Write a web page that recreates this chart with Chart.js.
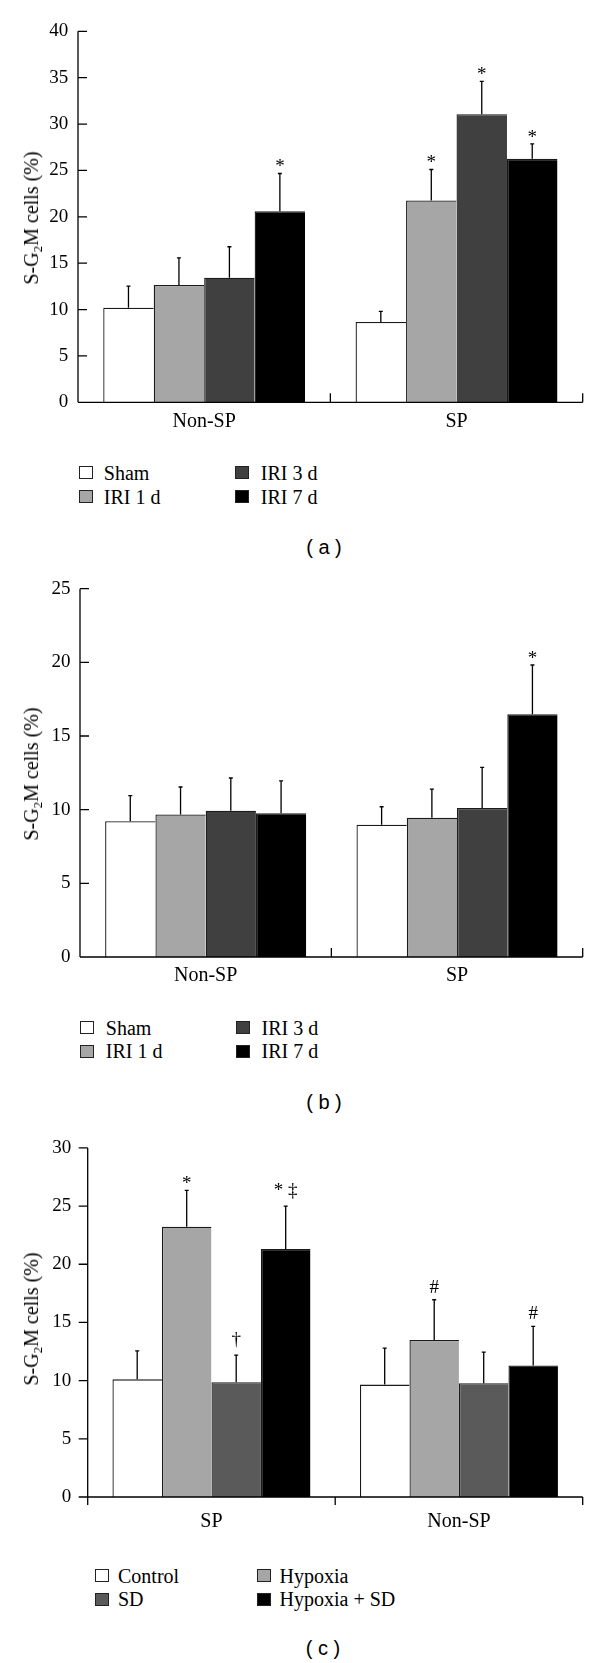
<!DOCTYPE html>
<html><head><meta charset="utf-8">
<script src="https://cdn.jsdelivr.net/npm/chart.js@4.4.1/dist/chart.umd.min.js"></script>
<style>
body{margin:0;background:#fff;}
#wrap{position:relative;width:600px;height:1663px;overflow:hidden;background:#fff;}
#wrap canvas{position:absolute;left:0;}
.yt{position:absolute;font:20px "Liberation Serif","Times New Roman",serif;white-space:nowrap;transform:translate(-50%,-50%) rotate(-90deg);color:#000;line-height:1;}
.yt sub{font-size:13px;vertical-align:-4px;line-height:0;}
.lg-box{position:absolute;box-sizing:border-box;border:1px solid #222;}
.lg-txt{position:absolute;font:20px "Liberation Serif","Times New Roman",serif;white-space:nowrap;transform:translateY(-50%);line-height:1;color:#000;}
.cap{position:absolute;font:20px "Liberation Sans",Arial,sans-serif;transform:translate(-50%,-50%);white-space:pre;color:#000;line-height:1;}
</style></head>
<body><div id="wrap"></div>
<script>
// ---------- DATA ----------
// Panel (a)
const A_categories = ['Non-SP', 'SP'];
const A_series = ['Sham', 'IRI 1 d', 'IRI 3 d', 'IRI 7 d'];
const A_sham = [10.2, 8.65];
const A_iri1 = [12.64, 21.76];
const A_iri3 = [13.43, 31.06];
const A_iri7 = [20.61, 26.25];
const A_sham_err = [2.33, 1.15];
const A_iri1_err = [2.94, 3.34];
const A_iri3_err = [3.34, 3.54];
const A_iri7_err = [4.06, 1.61];
const A_sham_sig = ['', ''];
const A_iri1_sig = ['', '*'];
const A_iri3_sig = ['', '*'];
const A_iri7_sig = ['*', '*'];
const A_yMax = 40, A_yStep = 5;

// Panel (b)
const B_categories = ['Non-SP', 'SP'];
const B_series = ['Sham', 'IRI 1 d', 'IRI 3 d', 'IRI 7 d'];
const B_sham = [9.21, 8.98];
const B_iri1 = [9.68, 9.46];
const B_iri3 = [9.93, 10.11];
const B_iri7 = [9.75, 16.47];
const B_sham_err = [1.74, 1.22];
const B_iri1_err = [1.86, 1.94];
const B_iri3_err = [2.22, 2.76];
const B_iri7_err = [2.2, 3.35];
const B_sham_sig = ['', ''];
const B_iri1_sig = ['', ''];
const B_iri3_sig = ['', ''];
const B_iri7_sig = ['', '*'];
const B_yMax = 25, B_yStep = 5;

// Panel (c)
const C_categories = ['SP', 'Non-SP'];
const C_series = ['Control', 'Hypoxia', 'SD', 'Hypoxia + SD'];
const C_control = [10.11, 9.66];
const C_hypoxia = [23.22, 13.5];
const C_sd = [9.86, 9.77];
const C_hsd = [21.31, 11.31];
const C_control_err = [2.45, 3.13];
const C_hypoxia_err = [3.13, 3.45];
const C_sd_err = [2.33, 2.68];
const C_hsd_err = [3.68, 3.36];
const C_control_sig = ['', ''];
const C_hypoxia_sig = ['*', '#'];
const C_sd_sig = ['\u2020', ''];
const C_hsd_sig = ['* \u2021', '#'];
const C_yMax = 30, C_yStep = 5;

// ---------- STYLE ----------
const SERIF = '"Liberation Serif", "Times New Roman", serif';
const COLORS_AB = ['#ffffff', '#a6a6a6', '#404040', '#000000'];
const COLORS_C = ['#ffffff', '#a6a6a6', '#5a5a5a', '#000000'];

const axisPlugin = {
  id: 'axes',
  afterDatasetsDraw(chart, args, opts) {
    const {ctx, chartArea: {left, right, top, bottom}, scales: {x, y}} = chart;
    ctx.save();
    ctx.strokeStyle = '#000';
    ctx.lineWidth = 1.3;
    ctx.beginPath();
    ctx.moveTo(left, top);
    ctx.lineTo(left, bottom + (opts.outward ? 8 : 0));
    ctx.moveTo(left, bottom);
    ctx.lineTo(right, bottom);
    y.ticks.forEach(t => {
      const py = y.getPixelForValue(t.value);
      if (opts.outward) { ctx.moveTo(left - 9, py); ctx.lineTo(left, py); }
      else { ctx.moveTo(left, py); ctx.lineTo(left + 9, py); }
    });
    const n = x.ticks.length;
    for (let i = 1; i <= n; i++) {
      const px = i === n ? right : (x.getPixelForValue(i - 1) + x.getPixelForValue(i)) / 2;
      if (opts.outward) { ctx.moveTo(px, bottom); ctx.lineTo(px, bottom + 8); }
      else { ctx.moveTo(px, bottom); ctx.lineTo(px, bottom - 9); }
    }
    ctx.stroke();
    ctx.restore();
  }
};

const errPlugin = {
  id: 'errbars',
  afterDatasetsDraw(chart) {
    const ctx = chart.ctx;
    const y = chart.scales.y;
    ctx.save();
    ctx.strokeStyle = '#000';
    ctx.fillStyle = '#000';
    ctx.lineWidth = 1.3;
    ctx.font = '19px ' + SERIF;
    ctx.textAlign = 'center';
    ctx.textBaseline = 'alphabetic';
    chart.data.datasets.forEach((ds, di) => {
      const meta = chart.getDatasetMeta(di);
      meta.data.forEach((bar, i) => {
        const v = ds.data[i], e = ds.errors[i];
        const py = y.getPixelForValue(v + e);
        ctx.beginPath();
        ctx.moveTo(bar.x, bar.y);
        ctx.lineTo(bar.x, py);
        ctx.moveTo(bar.x - 2, py);
        ctx.lineTo(bar.x + 2, py);
        ctx.stroke();
        const s = ds.sig[i];
        if (s) {
          const m = ctx.measureText(s);
          ctx.fillText(s, bar.x, py - 7 - m.actualBoundingBoxDescent);
        }
      });
    });
    ctx.restore();
  }
};

const wrap = document.getElementById('wrap');

function makeChart(o) {
  const cv = document.createElement('canvas');
  cv.width = 600; cv.height = o.height;
  cv.style.top = o.top + 'px';
  wrap.appendChild(cv);
  return new Chart(cv, {
    type: 'bar',
    data: {
      labels: o.categories,
      datasets: o.series.map((name, k) => ({
        label: name,
        data: o.values[k],
        errors: o.errors[k],
        sig: o.sig[k],
        backgroundColor: o.colors[k],
        borderColor: '#1a1a1a',
        borderWidth: {top: 1.3, left: 1.3, right: 0, bottom: 0},
        borderSkipped: false,
        categoryPercentage: 0.8,
        barPercentage: 1
      }))
    },
    options: {
      responsive: false,
      animation: false,
      devicePixelRatio: 1,
      layout: {padding: {top: o.padTop, right: 600 - o.right, left: 0, bottom: 0}},
      plugins: {legend: {display: false}, tooltip: {enabled: false}, axes: {outward: o.outward}},
      scales: {
        x: {
          grid: {display: false, drawTicks: false},
          border: {display: false},
          ticks: {font: {family: SERIF, size: 20}, color: '#000', padding: o.xPad, maxRotation: 0},
          afterFit(s) { s.height = o.height - o.bottom; }
        },
        y: {
          min: 0, max: o.yMax,
          grid: {display: false, drawTicks: false},
          border: {display: false},
          ticks: {stepSize: o.yStep, font: {family: SERIF, size: 19}, color: '#000', padding: o.yPad},
          afterFit(s) { s.width = o.left; }
        }
      }
    },
    plugins: [axisPlugin, errPlugin]
  });
}

function addYTitle(cx, cy) {
  const d = document.createElement('div');
  d.className = 'yt';
  d.innerHTML = 'S-G<sub>2</sub>M cells (%)';
  d.style.left = cx + 'px'; d.style.top = cy + 'px';
  wrap.appendChild(d);
}

function addLegend(names, colors, items, boxX, textX, rowY) {
  items.forEach(it => {
    const b = document.createElement('div');
    b.className = 'lg-box';
    b.style.left = boxX[it.col] + 'px';
    b.style.top = (rowY[it.row] - 6.5) + 'px';
    b.style.width = '14px'; b.style.height = '13px';
    b.style.background = colors[it.s];
    wrap.appendChild(b);
    const t = document.createElement('div');
    t.className = 'lg-txt';
    t.textContent = names[it.s];
    t.style.left = textX[it.col] + 'px';
    t.style.top = rowY[it.row] + 'px';
    wrap.appendChild(t);
  });
}

function addCaption(txt, cx, cy) {
  const d = document.createElement('div');
  d.className = 'cap';
  d.textContent = txt;
  d.style.left = cx + 'px'; d.style.top = cy + 'px';
  wrap.appendChild(d);
}

// Panel (a)
makeChart({
  top: 0, height: 440, padTop: 31.3, bottom: 402.3, left: 78, right: 582.7,
  xPad: 7, yPad: 9.7, outward: false,
  categories: A_categories, series: A_series, colors: COLORS_AB,
  values: [A_sham, A_iri1, A_iri3, A_iri7],
  errors: [A_sham_err, A_iri1_err, A_iri3_err, A_iri7_err],
  sig: [A_sham_sig, A_iri1_sig, A_iri3_sig, A_iri7_sig],
  yMax: A_yMax, yStep: A_yStep
});
addYTitle(31, 218);
addLegend(A_series, COLORS_AB,
  [{s:0,row:0,col:0},{s:1,row:1,col:0},{s:2,row:0,col:1},{s:3,row:1,col:1}],
  [78.8, 234.6], [103.8, 260.8], [472.7, 496.7]);
addCaption('( a )', 324, 547);

// Panel (b)
makeChart({
  top: 560, height: 440, padTop: 28.7, bottom: 397, left: 80, right: 582.7,
  xPad: 7, yPad: 9.5, outward: false,
  categories: B_categories, series: B_series, colors: COLORS_AB,
  values: [B_sham, B_iri1, B_iri3, B_iri7],
  errors: [B_sham_err, B_iri1_err, B_iri3_err, B_iri7_err],
  sig: [B_sham_sig, B_iri1_sig, B_iri3_sig, B_iri7_sig],
  yMax: B_yMax, yStep: B_yStep
});
addYTitle(31, 774);
addLegend(B_series, COLORS_AB,
  [{s:0,row:0,col:0},{s:1,row:1,col:0},{s:2,row:0,col:1},{s:3,row:1,col:1}],
  [80, 235.8], [105.8, 261.5], [1027.7, 1051]);
addCaption('( b )', 324, 1101.7);

// Panel (c)
makeChart({
  top: 1120, height: 440, padTop: 26, bottom: 377, left: 87.7, right: 582.7,
  xPad: 13, yPad: 16.5, outward: true,
  categories: C_categories, series: C_series, colors: COLORS_C,
  values: [C_control, C_hypoxia, C_sd, C_hsd],
  errors: [C_control_err, C_hypoxia_err, C_sd_err, C_hsd_err],
  sig: [C_control_sig, C_hypoxia_sig, C_sd_sig, C_hsd_sig],
  yMax: C_yMax, yStep: C_yStep
});
addYTitle(31, 1319);
addLegend(C_series, COLORS_C,
  [{s:0,row:0,col:0},{s:1,row:0,col:1},{s:2,row:1,col:0},{s:3,row:1,col:1}],
  [95, 256.5], [118, 279.6], [1575.7, 1599]);
addCaption('( c )', 323, 1648.3);
</script>
</body></html>
